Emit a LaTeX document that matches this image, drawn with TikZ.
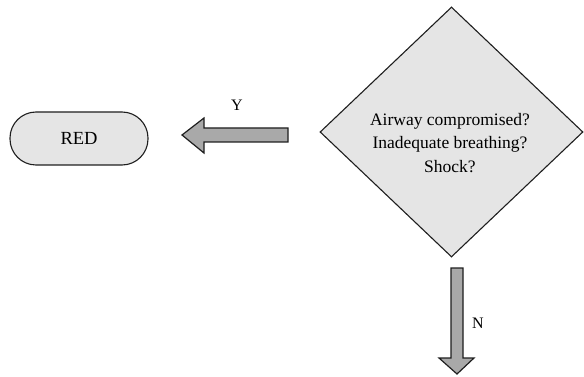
\documentclass[tikz,border=0pt]{standalone}
\usepackage{fontspec}
\setmainfont{Liberation Serif}
\usetikzlibrary{shapes.geometric}
\definecolor{boxfill}{HTML}{E5E5E5}
\definecolor{arrfill}{HTML}{A9A9A9}
\definecolor{edge}{HTML}{1E1E1E}
\tikzset{
  decision/.style={diamond, draw=edge, fill=boxfill, line width=1.1pt, inner sep=0pt, minimum width=263pt, minimum height=250pt},
  terminal/.style={rectangle, rounded corners=26pt, draw=edge, fill=boxfill, line width=1.1pt, minimum width=138pt, minimum height=53pt, inner sep=0pt, font=\fontsize{18.5}{22}\selectfont},
  blockarrow/.style={draw=edge, fill=arrfill, line width=1.2pt, line join=miter},
  lbl/.style={inner sep=0pt, font=\fontsize{16}{18}\selectfont},
}
\begin{document}
\begin{tikzpicture}[x=1pt,y=-1pt]
\useasboundingbox (0,0) rectangle (584,377);
\node[decision] (dia) at (451.5,132) {};
\node[inner sep=0pt, align=center, font=\fontsize{17.5}{23.5}\selectfont] (q) at (450,143) {Airway compromised?\\Inadequate breathing?\\Shock?};
\node[terminal] (red) at (79,138.5) {RED};
% left block arrow (Y)
\draw[blockarrow] (288,128) -- (204,128) -- (204,118) -- (182,135) -- (204,153) -- (204,142) -- (288,142) -- cycle;
\node[lbl] (y) at (237,105) {Y};
% down block arrow (N)
\draw[blockarrow] (451,268) -- (463,268) -- (463,358) -- (474,358) -- (457,374) -- (439,358) -- (451,358) -- cycle;
\node[lbl] (n) at (478,323) {N};
\end{tikzpicture}
\end{document}
